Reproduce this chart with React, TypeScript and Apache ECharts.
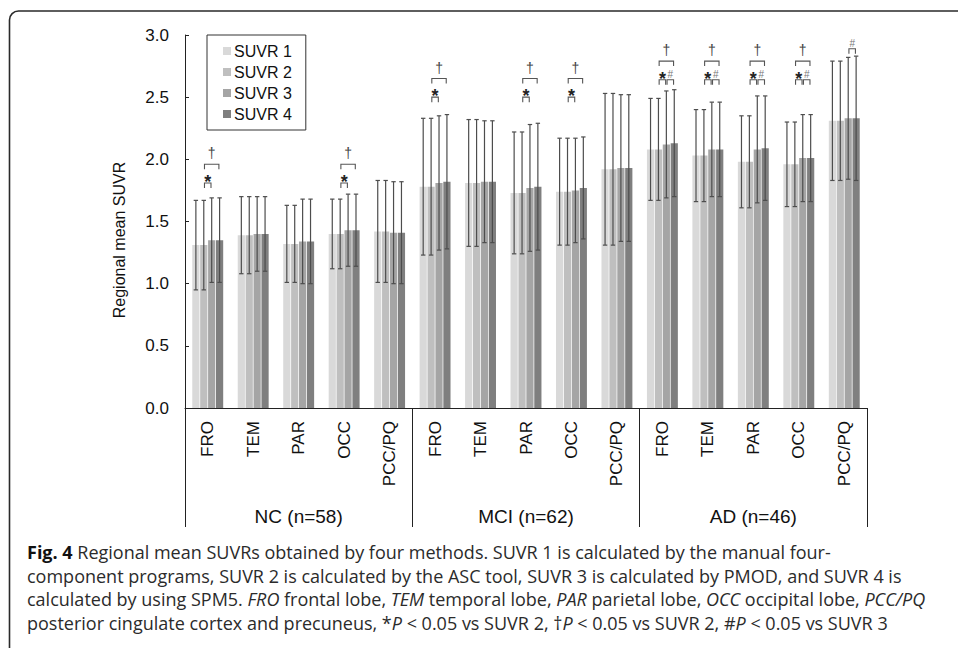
import React, { useEffect, useRef } from "react";
import * as echarts from "echarts";

const regions = ["FRO", "TEM", "PAR", "OCC", "PCC/PQ"];
const categories = [...regions, ...regions, ...regions];
const groups = ["NC (n=58)", "MCI (n=62)", "AD (n=46)"];
const seriesNames = ["SUVR 1", "SUVR 2", "SUVR 3", "SUVR 4"];
const yTicks = [0, 0.5, 1.0, 1.5, 2.0, 2.5, 3.0];

const suvr1 = [1.31, 1.39, 1.32, 1.40, 1.42, 1.78, 1.81, 1.73, 1.74, 1.92, 2.08, 2.03, 1.98, 1.96, 2.31];
const suvr2 = [1.31, 1.39, 1.32, 1.40, 1.42, 1.78, 1.81, 1.73, 1.74, 1.92, 2.08, 2.03, 1.98, 1.96, 2.31];
const suvr3 = [1.35, 1.40, 1.34, 1.43, 1.41, 1.81, 1.82, 1.77, 1.75, 1.93, 2.12, 2.08, 2.08, 2.01, 2.33];
const suvr4 = [1.35, 1.40, 1.34, 1.43, 1.41, 1.82, 1.82, 1.78, 1.77, 1.93, 2.13, 2.08, 2.09, 2.01, 2.33];

const sd1 = [0.36, 0.31, 0.31, 0.28, 0.41, 0.55, 0.51, 0.49, 0.43, 0.61, 0.41, 0.37, 0.37, 0.34, 0.48];
const sd2 = [0.36, 0.31, 0.31, 0.28, 0.41, 0.55, 0.51, 0.49, 0.43, 0.61, 0.41, 0.37, 0.37, 0.34, 0.48];
const sd3 = [0.34, 0.30, 0.34, 0.29, 0.41, 0.54, 0.49, 0.51, 0.42, 0.59, 0.43, 0.38, 0.43, 0.35, 0.49];
const sd4 = [0.34, 0.30, 0.34, 0.29, 0.41, 0.54, 0.49, 0.51, 0.41, 0.59, 0.43, 0.38, 0.42, 0.35, 0.50];

// significance brackets: [category index, from bar, to bar, bracket level, symbol index]
const symbols = ["*", "\u2020", "#"];
const brackets = [
  [0, 1, 2, 1.81, 0], [0, 1, 3, 1.96, 1],
  [3, 1, 2, 1.81, 0], [3, 1, 3, 1.96, 1],
  [5, 1, 2, 2.50, 0], [5, 1, 3, 2.65, 1],
  [7, 1, 2, 2.50, 0], [7, 1, 3, 2.65, 1],
  [8, 1, 2, 2.50, 0], [8, 1, 3, 2.65, 1],
  [10, 1, 2, 2.64, 0], [10, 2, 3, 2.64, 2], [10, 1, 3, 2.79, 1],
  [11, 1, 2, 2.64, 0], [11, 2, 3, 2.64, 2], [11, 1, 3, 2.79, 1],
  [12, 1, 2, 2.64, 0], [12, 2, 3, 2.64, 2], [12, 1, 3, 2.79, 1],
  [13, 1, 2, 2.64, 0], [13, 2, 3, 2.64, 2], [13, 1, 3, 2.79, 1],
  [14, 2, 3, 2.89, 2],
];

const captionLines = [
  "{b|Fig. 4} Regional mean SUVRs obtained by four methods. SUVR 1 is calculated by the manual four-",
  "component programs, SUVR 2 is calculated by the ASC tool, SUVR 3 is calculated by PMOD, and SUVR 4 is",
  "calculated by using SPM5. {i|FRO} frontal lobe, {i|TEM} temporal lobe, {i|PAR} parietal lobe, {i|OCC} occipital lobe, {i|PCC/PQ}",
  "posterior cingulate cortex and precuneus, *{i|P} < 0.05 vs SUVR 2, \u2020{i|P} < 0.05 vs SUVR 2, #{i|P} < 0.05 vs SUVR 3",
];

const colors = ["#d9d9d9", "#bfbfbf", "#a5a5a5", "#7f7f7f"];
const CAT_GAP = 0.32;
const BAR_GAP = 0.1;
const FONT = "'Liberation Sans', Arial, sans-serif";
const CAPFONT = "'Open Sans', 'Noto Sans', sans-serif";

function barCenter(bandWidth: number, barIdx: number) {
  const used = bandWidth * (1 - CAT_GAP);
  const w = used / (4 + 3 * BAR_GAP);
  return -used / 2 + barIdx * w * (1 + BAR_GAP) + w / 2;
}

export default function App() {
  const ref = useRef<HTMLDivElement>(null);
  useEffect(() => {
    if (!ref.current) return;
    const chart = echarts.init(ref.current, undefined, { renderer: "svg" });
    const means = [suvr1, suvr2, suvr3, suvr4];
    const sds = [sd1, sd2, sd3, sd4];
    const errData: number[][] = [];
    means.forEach((arr, s) => arr.forEach((m, c) => errData.push([c, s, m, sds[s][c]])));

    const barSeries = means.map((arr, s) => ({
      name: seriesNames[s],
      type: "bar",
      xAxisIndex: 0,
      data: arr,
      itemStyle: { color: colors[s] },
      barCategoryGap: "32%",
      barGap: "10%",
      z: 2,
    }));

    const option: any = {
      animation: false,
      textStyle: { fontFamily: FONT },
      grid: { left: 185, top: 35, width: 682, height: 373, containLabel: false },
      legend: {
        orient: "vertical",
        left: 207,
        top: 35,
        padding: [8, 14, 8, 16],
        itemWidth: 8,
        itemHeight: 8,
        itemGap: 5,
        icon: "rect",
        borderColor: "#333",
        borderWidth: 1,
        borderRadius: 0,
        textStyle: { fontSize: 16, color: "#111", fontFamily: FONT, lineHeight: 16, padding: [0, 0, 0, -2] },
        data: seriesNames,
      },
      xAxis: [
        {
          type: "category",
          data: categories,
          position: "bottom",
          axisLine: { lineStyle: { color: "#222", width: 1 } },
          axisTick: { show: false },
          axisLabel: { rotate: 90, margin: 13, fontSize: 17, color: "#111", fontFamily: FONT, interval: 0 },
        },
        {
          type: "category",
          data: groups,
          position: "bottom",
          axisLine: { show: false },
          axisTick: { show: true, length: 119, lineStyle: { color: "#222", width: 1 } },
          axisLabel: { margin: 99, fontSize: 19, color: "#111", fontFamily: FONT, interval: 0 },
        },
      ],
      yAxis: {
        type: "value",
        min: yTicks[0],
        max: yTicks[yTicks.length - 1],
        interval: 0.5,
        axisLine: { show: true, lineStyle: { color: "#222", width: 1 } },
        axisTick: { show: true, inside: true, length: 4, lineStyle: { color: "#222" } },
        splitLine: { show: false },
        axisLabel: {
          margin: 16,
          fontSize: 17,
          color: "#111",
          fontFamily: FONT,
          formatter: (v: number) => v.toFixed(1),
        },
      },
      series: [
        ...barSeries,
        {
          type: "custom",
          name: "errors",
          xAxisIndex: 0,
          z: 5,
          silent: true,
          data: errData,
          renderItem: (params: any, api: any) => {
            const c = api.value(0);
            const s = api.value(1);
            const m = api.value(2);
            const sd = api.value(3);
            const bw = api.size([1, 0])[0];
            const top = api.coord([c, m + sd]);
            const bot = api.coord([c, m - sd]);
            const x = top[0] + barCenter(bw, s);
            const cap = 2.2;
            const st = { stroke: "#4d4d4d", lineWidth: 1.2, fill: "none" };
            return {
              type: "group",
              children: [
                { type: "line", shape: { x1: x, y1: top[1], x2: x, y2: bot[1] }, style: st },
                { type: "line", shape: { x1: x - cap, y1: top[1], x2: x + cap, y2: top[1] }, style: st },
                { type: "line", shape: { x1: x - cap, y1: bot[1], x2: x + cap, y2: bot[1] }, style: st },
              ],
            };
          },
        },
        {
          type: "custom",
          name: "signif",
          xAxisIndex: 0,
          z: 6,
          silent: true,
          data: brackets,
          renderItem: (params: any, api: any) => {
            const c = api.value(0);
            const b0 = api.value(1);
            const b1 = api.value(2);
            const lvl = api.value(3);
            const si = api.value(4);
            const bw = api.size([1, 0])[0];
            const p = api.coord([c, lvl]);
            const xa = p[0] + barCenter(bw, b0) + 0.7;
            const xb = p[0] + barCenter(bw, b1) - 0.7;
            const y = p[1];
            const sym = symbols[si];
            let textStyle: any;
            let ty = y;
            if (si === 0) {
              textStyle = { fontSize: 18, fontWeight: "bold", fill: "#222" };
              ty = y - 1;
            } else if (si === 1) {
              textStyle = { fontSize: 14, fill: "#444" };
              ty = y - 11;
            } else {
              textStyle = { fontSize: 10, fill: "#777" };
              ty = y - 5;
            }
            return {
              type: "group",
              children: [
                {
                  type: "polyline",
                  shape: { points: [[xa, y + 5], [xa, y], [xb, y], [xb, y + 5]] },
                  style: { stroke: "#555", lineWidth: 1.1, fill: "none" },
                },
                {
                  type: "text",
                  x: (xa + xb) / 2,
                  y: ty,
                  style: {
                    text: sym,
                    align: "center",
                    verticalAlign: "middle",
                    fontFamily: FONT,
                    ...textStyle,
                  },
                },
              ],
            };
          },
        },
      ],
      graphic: [
        {
          type: "rect",
          shape: { x: 9.5, y: 11, width: 1000, height: 700, r: [9, 0, 0, 0] },
          style: { fill: "none", stroke: "#2a2a2a", lineWidth: 1.6 },
          silent: true,
        },
        {
          type: "text",
          x: 119,
          y: 240,
          rotation: Math.PI / 2,
          style: {
            text: "Regional mean SUVR",
            align: "center",
            verticalAlign: "middle",
            fontSize: 16,
            fontFamily: FONT,
            fill: "#111",
          },
        },
        ...captionLines.map((t, i) => ({
          type: "text",
          x: 27,
          y: 552 + i * 23.7,
          style: {
            text: t,
            align: "left",
            verticalAlign: "middle",
            fontSize: 18,
            fontFamily: CAPFONT,
            fill: "#2b2b2b",
            rich: {
              b: { fontWeight: "bold", fontSize: 18, fontFamily: CAPFONT, fill: "#111" },
              i: { fontStyle: "italic", fontSize: 18, fontFamily: CAPFONT, fill: "#2b2b2b" },
            },
          },
        })),
      ],
    };
    chart.setOption(option);
    return () => chart.dispose();
  }, []);
  return (
    <div
      ref={ref}
      style={{ position: "absolute", left: 0, top: 0, width: 958, height: 648, background: "#fff" }}
    />
  );
}
